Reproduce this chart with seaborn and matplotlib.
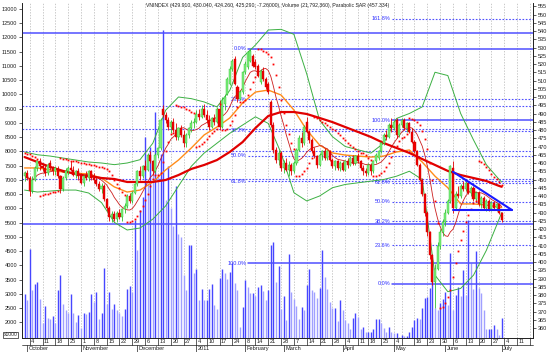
import numpy as np
import pandas as pd
import matplotlib
matplotlib.use("Agg")
import matplotlib.pyplot as plt
import seaborn as sns
from matplotlib.transforms import blended_transform_factory
from matplotlib.patches import Rectangle

TITLE = ("VNINDEX (429.910, 430.040, 424.260, 425.290, -7.26000), "
         "Volume (21,792,360), Parabolic SAR (457.334)")

FIRST_DAY = "2010-09-30"
LAST_AXIS_DAY = "2011-07-22"
HOLIDAYS = ["2011-01-03", "2011-01-31", "2011-02-01", "2011-02-02", "2011-02-03",
            "2011-02-04", "2011-02-07", "2011-04-12", "2011-05-02", "2011-05-03"]

DAY_LABELS = ["4", "11", "18", "25", "1", "8", "15", "22", "29", "6", "13", "20", "27",
              "4", "10", "17", "24", "8", "14", "21", "28", "7", "14", "21", "28",
              "4", "11", "18", "25", "4", "", "16", "23", "30", "6", "13", "20", "27",
              "4", "11", ""]
MONTH_LABELS = ["October", "November", "December", "2011", "February", "March",
                "April", "May", "June", "July"]

OPEN = [452,454,451,443,450,457,461,458,457,454,
        460,457,455,456,452,444,451,455,457,456,
        453,455,452,448,452,451,455,451,450,447,
        444,446,438,433,427,429,426,430,427,432,
        434,440,437,442,447,455,452,458,456,465,
        461,455,465,469,493,489,486,482,485,480,
        476,481,477,472,477,481,484,485,490,488,
        493,489,486,482,487,485,493,482,496,502,
        508,517,523,506,499,503,515,518,522,525,
        521,519,509,516,511,508,497,483,468,462,
        466,457,460,456,459,455,460,468,475,472,
        485,479,474,467,464,459,465,467,463,467,
        462,458,461,457,460,456,461,459,463,460,
        464,461,457,455,454,459,455,461,463,467,
        472,477,476,483,481,486,477,483,486,481,
        484,479,473,467,459,450,441,430,418,404,
        388,396,410,418,424,430,437,457,433,441,
        440,446,444,448,442,445,438,442,435,439,
        433,437,432,436,433,435,429.91]
HIGH = [455,456,452,452,458,462,463,460,459,460,
        462,458,458,458,453,452,457,458,461,458,
        456,457,454,453,455,456,456,454,452,449,
        448,447,439,434,431,431,431,432,433,436,
        441,442,443,448,456,458,459,462,466,467,
        462,466,470,487,495,491,488,486,487,484,
        482,483,480,478,482,486,487,492,493,495,
        496,492,489,488,490,494,498,500,502,512,
        519,523,525,507,504,516,522,528,529.3,526,
        523,520,517,518,512,509,498,485,470,468,
        467,462,463,461,460,461,469,477,479,483,
        488,480,475,470,465,466,468,469,468,468,
        463,462,462,461,461,462,463,464,465,465,
        466,462,459,457,460,460,462,466,468,473,
        478,480,484,487,486,487,484,487,487,485,
        485,481,474,468,460,451,442,431,419,405,
        399,412,420,426,432,438,459,461,443,446,
        447,449,449,449,446,446,443,443,440,440,
        438,438,437,437,436,436,430.04]
LOW = [449,450,440,442,449,455,456,455,452,453,
       456,453,453,451,442,443,450,453,455,452,
       451,450,447,446,450,449,450,448,446,443,
       442,437,431,425,424,425,424,426,425,430,
       433,436,436,441,446,450,451,455,455,460,
       453,454,463,468,488,484,480,478,479,474,
       474,476,470,470,475,479,481,484,486,487,
       488,484,480,481,483,484,480,481,492,501,
       507,516,507,497,498,502,514,517,521,518,
       517,512,508,510,505,502,482,466,460,459,
       455,454,455,452,453,454,459,467,470,471,
       478,472,466,463,457,458,462,462,462,461,
       457,456,456,455,455,455,457,458,459,459,
       460,456,453,452,453,453,454,460,462,466,
       471,474,475,479,480,475,476,482,480,479,
       478,472,466,458,449,440,428,416,402,386,
       372,395,408,416,422,429,436,430,432,439,
       439,443,443,441,440,437,437,434,433,432,
       431,431,431,432,431,429,424.26]
CLOSE = [454,451,443,450,457,461,458,457,454,459,
         457,455,457,452,444,451,455,457,456,453,
         455,452,448,452,451,455,451,450,447,444,
         446,438,433,427,429,426,430,427,432,434,
         440,437,442,447,455,452,458,456,465,461,
         455,465,469,486,489,486,482,485,480,476,
         481,477,472,477,481,484,485,490,488,493,
         489,486,482,487,485,493,482,498,500,511,
         517,522,508,499,503,515,520,527,528,519,
         518,513,516,511,506,503,483,468,462,466,
         457,460,456,459,455,460,468,475,472,482,
         479,474,467,464,459,465,467,463,467,462,
         458,461,457,460,456,461,459,463,460,464,
         461,457,455,454,459,455,461,465,467,472,
         477,476,483,481,485,477,483,486,481,484,
         479,473,467,459,450,441,430,418,404,388,
         396,410,418,424,430,437,458,433,441,440,
         446,444,448,442,445,438,442,435,439,433,
         437,432,436,433,435,430,425.29]
VOLUME = [3000,2790,4580,3140,3350,3420,2820,1980,2580,2160,
          2130,2230,1980,3140,3670,2650,2440,2330,3000,2330,
          2020,2270,1810,2330,2290,2360,3000,2720,3070,2130,
          2330,3910,2650,3070,2460,2650,2430,2330,2230,2460,
          3180,3280,3070,5600,4540,5950,6400,8500,6900,8150,
          7200,9400,7200,7900,12260,6300,7500,6000,5400,6800,
          5100,5000,3665,3140,4720,4720,3720,3880,2790,3160,
          2790,2790,3160,3350,2610,2460,3570,3860,3720,3510,
          3780,4080,3370,3140,1850,2550,3490,3260,3020,3050,
          2930,3260,3310,3120,2790,3140,4720,4840,3430,3980,
          2460,2930,2090,4400,3080,2820,2580,2120,2530,2440,
          3310,3860,3140,3080,2850,3200,4540,3610,3160,2730,
          2500,2500,2060,2790,2440,2090,1970,1760,2150,2320,
          2180,1760,1850,1680,1680,1680,1760,2110,2110,1970,
          1790,1680,1850,1650,1640,1640,1500,1560,1530,1530,
          1680,1850,2090,2150,2110,2520,2850,2900,3200,4190,
          2500,2440,2690,2810,3080,2610,4430,2440,2960,3260,
          2930,3840,2960,5600,4080,3160,4520,3200,3050,2440,
          1760,1760,1760,1910,1760,1560,2170]

# indicator lines read every 5 sessions
SAMPLE_IDX = list(range(0, 186, 5)) + [186]
BB_UPPER = [466.7,465,464.2,463,461.8,460.6,460,459,460,462,
            472,492,500,499,497,494,504,524,531.5,540.6,
            541,538,514,486,476,470,468,466,472,487,
            490,494,515,513,490,474,459,450,448.5]
BB_LOWER = [443.6,442.4,443,443.6,443.6,441.8,436,424,419.4,420.6,
            426,434,446,458,466,472,478,483,488,484,
            466,442,437,440,445,447,448,449,450,452,
            455,450,392,382,384,392,407,426,430]
MA_ORANGE = [457,457,455.8,454.5,453.9,453.3,450.9,445.5,442.4,443.6,
             448.5,455.8,461.8,469.1,477,481.8,487.3,496.4,503,504.2,
             501.2,492.1,480,470.9,466.1,464.8,464.2,463.6,464.2,466.7,
             467.9,460.6,452,445,435.2,435.2,434.5,433.3,433]
MA_SLOW = [463.6,460.6,457.6,455.2,453.3,452.1,450.9,450.3,448.5,448.5,
           448.5,449.7,452.7,456.4,458.8,461.8,466.7,472.7,481.2,488.5,
           490.9,490.9,489.7,487.3,484.8,481.8,478.8,475.8,472.1,469.1,
           466.1,462.4,458.8,455.2,452.7,450.9,449.1,446.1,445.6]
SAR_START = 466.0

FIB_C_LEVELS = [422.9, 450.2, 467.1, 480.75, 494.4, 538.6]
FIB_C_SOLID = [True, False, False, False, False, True]
FIB_A_LEVELS = [529.3, 498.6, 479.6, 464.3, 449.0, 399.3]
FIB_A_LABELS = ["0.0%", "23.6%", "38.2%", "50.0%", "61.8%", "100.0%"]
FIB_A_SOLID = [True, False, False, False, False, True]
FIB_B_LEVELS = [547.4, 486.0, 448.1, 436.4, 424.6, 410.1, 386.7]
FIB_B_LABELS = ["161.8%", "100.0%", "61.8%", "50.0%", "38.2%", "23.6%", "0.0%"]
FIB_B_SOLID = [False, True, False, False, False, False, True]
TRI_X = [167, 190]
TRI_TOP = [454.7, 431.5]
TRI_BASE = [431.5, 431.5]

# ---------------------------------------------------------------------------
sns.set_theme(style="white")
plt.rcParams["font.family"] = ["Liberation Sans", "DejaVu Sans"]

dates = pd.bdate_range(FIRST_DAY, LAST_AXIS_DAY)
dates = dates[~dates.isin(pd.to_datetime(HOLIDAYS))]
iso = dates.isocalendar().week.values
week_pos = [i for i in range(1, len(dates)) if iso[i] != iso[i - 1]]
month_pos = [i for i in range(1, len(dates)) if dates[i].month != dates[i - 1].month]

o = np.array(OPEN, float); h = np.array(HIGH, float)
l = np.array(LOW, float); c = np.array(CLOSE, float)
vol = np.array(VOLUME, float)
n = len(c)
x = np.arange(n)
up = c >= o


def psar(high, low, start, af0=0.02, step=0.02, afmax=0.2):
    out = np.zeros(len(high))
    trend, s, ep, af = -1, start, low[0], af0
    out[0] = s
    for i in range(1, len(high)):
        s = s + af * (ep - s)
        if trend == 1:
            s = min(s, low[i - 1], low[max(i - 2, 0)])
            if low[i] < s:
                trend, s, ep, af = -1, ep, low[i], af0
            elif high[i] > ep:
                ep, af = high[i], min(af + step, afmax)
        else:
            s = max(s, high[i - 1], high[max(i - 2, 0)])
            if high[i] > s:
                trend, s, ep, af = 1, ep, high[i], af0
            elif low[i] < ep:
                ep, af = low[i], min(af + step, afmax)
        out[i] = s
    return out


sar = psar(h, l, SAR_START)
ma_fast = pd.Series(c).rolling(10, min_periods=1).mean().values

W, H = 557, 352
fig = plt.figure(figsize=(W / 100, H / 100), dpi=100)
fig.patch.set_facecolor("white")
L, R, T, B = 22, 533, 3, 338
ax_v = fig.add_axes([L / W, (H - B) / H, (R - L) / W, (B - T) / H])
ax_p = ax_v.twinx()

XL = (-1.0, 198.2)
PY = (353.94, 556.97)
VY = (1455.6, 13210.5)
ax_v.set_xlim(*XL); ax_p.set_xlim(*XL)
ax_v.set_ylim(*VY); ax_p.set_ylim(*PY)

# weekly grid
for p in week_pos:
    ax_v.axvline(p, color="#b4b4b4", lw=0.5, ls=(0, (2, 2)), zorder=0)

# volume (darker when volume rose from the previous session)
rise = np.r_[True, vol[1:] >= vol[:-1]]
vcol = np.where(rise, "#4646ff", "#a0a0ff")
ax_v.vlines(x, VY[0], vol, colors=vcol, lw=1.0, zorder=1)

# fibonacci sets
fib_blue = "#4f4fff"
for lev, solid in zip(FIB_C_LEVELS, FIB_C_SOLID):
    ax_p.plot(XL, [lev, lev], color=fib_blue, lw=1.1 if solid else 0.8,
              ls="-" if solid else (0, (1.5, 1.5)), zorder=2)
for levels, labels, solids, start in [(FIB_A_LEVELS, FIB_A_LABELS, FIB_A_SOLID, 87.1),
                                      (FIB_B_LEVELS, FIB_B_LABELS, FIB_B_SOLID, 143.3)]:
    for lev, lab, solid in zip(levels, labels, solids):
        ax_p.plot([start, XL[1]], [lev, lev], color=fib_blue, lw=1.1 if solid else 0.8,
                  ls="-" if solid else (0, (1.5, 1.5)), zorder=2)
        ax_p.text(start - 0.6, lev, lab, fontsize=4.0, color="#2f2fff",
                  ha="right", va="center", zorder=2)

# bands and moving averages
sns.lineplot(x=SAMPLE_IDX, y=BB_UPPER, ax=ax_p, color="#3cb043", lw=0.7, zorder=4)
sns.lineplot(x=SAMPLE_IDX, y=BB_LOWER, ax=ax_p, color="#3cb043", lw=0.7, zorder=4)
sns.lineplot(x=SAMPLE_IDX, y=MA_ORANGE, ax=ax_p, color="#ff8c1a", lw=1.0, zorder=4)
sns.lineplot(x=x, y=ma_fast, ax=ax_p, color="#cc1f1f", lw=0.6, zorder=4)
sns.lineplot(x=SAMPLE_IDX, y=MA_SLOW, ax=ax_p, color="#e00000", lw=1.6, zorder=4)

# candles
ax_p.vlines(x, l, h, colors=np.where(up, "#2fbf2f", "#e00000"), lw=0.6, zorder=6)
for i in range(n):
    bot = min(o[i], c[i]); hgt = max(abs(c[i] - o[i]), 0.5)
    fc = "#7cf07c" if up[i] else "#ee0000"
    ec = "#2fbf2f" if up[i] else "#d00000"
    ax_p.add_patch(Rectangle((i - 0.4, bot), 0.8, hgt, facecolor=fc, edgecolor=ec,
                             lw=0.3, zorder=7))

# parabolic SAR
ax_p.plot(x, sar, ls="none", marker="s", ms=1.3, mew=0, color="#ff0000", zorder=8)

# triangle
ax_p.plot(TRI_X, TRI_TOP, color="#1a1aff", lw=1.5, zorder=9)
ax_p.plot(TRI_X, TRI_BASE, color="#1a1aff", lw=1.5, zorder=9)

# axes styling
for a in (ax_v, ax_p):
    a.grid(False)
    a.spines["top"].set_visible(False)
    for s in ("left", "right", "bottom"):
        a.spines[s].set_color("#202020"); a.spines[s].set_linewidth(0.6)
    a.set_xticks([])
ax_v.set_yticks(range(2000, 13001, 500))
ax_v.set_yticklabels([str(v) for v in range(2000, 13001, 500)])
ax_v.tick_params(axis="y", labelsize=4.0, length=2.5, width=0.5, pad=1, colors="#202020")
ax_p.set_yticks(range(360, 556, 5))
ax_p.set_yticklabels([str(v) for v in range(360, 556, 5)])
ax_p.tick_params(axis="y", labelsize=4.0, length=2.5, width=0.5, pad=1, colors="#202020")
ax_v.set_ylabel(""); ax_p.set_ylabel(""); ax_v.set_xlabel(""); ax_p.set_xlabel("")

# date rows
trans = blended_transform_factory(ax_p.transData, ax_p.transAxes)
h_ax = B - T
y1 = -7 / h_ax
y2 = -14 / h_ax
for p, lab in zip(week_pos, DAY_LABELS):
    ax_p.plot([p, p], [0, y1], transform=trans, color="#202020", lw=0.5, clip_on=False)
    if lab and p < XL[1] - 2:
        ax_p.text(p + 0.6, -3.6 / h_ax, lab, transform=trans, fontsize=4.1,
                  ha="left", va="center", color="#202020")
ax_p.plot(XL, [y1, y1], transform=trans, color="#202020", lw=0.5, clip_on=False)
for p, lab in zip(month_pos, MONTH_LABELS):
    ax_p.plot([p, p], [y1, y2], transform=trans, color="#202020", lw=0.5, clip_on=False)
    ax_p.text(p + 0.6, -10.6 / h_ax, lab, transform=trans, fontsize=4.1,
              ha="left", va="center", color="#202020")

fig.text(10.5 / W, 1 - 335 / H, "x1000", fontsize=3.6, ha="center", va="center",
         bbox=dict(boxstyle="square,pad=0.15", fc="white", ec="#202020", lw=0.5))
fig.text(146.5 / W, 1 - 5.5 / H, TITLE, fontsize=3.7, ha="left", va="center",
         color="#202020")

fig.savefig("out.png", dpi=100, facecolor="white")
